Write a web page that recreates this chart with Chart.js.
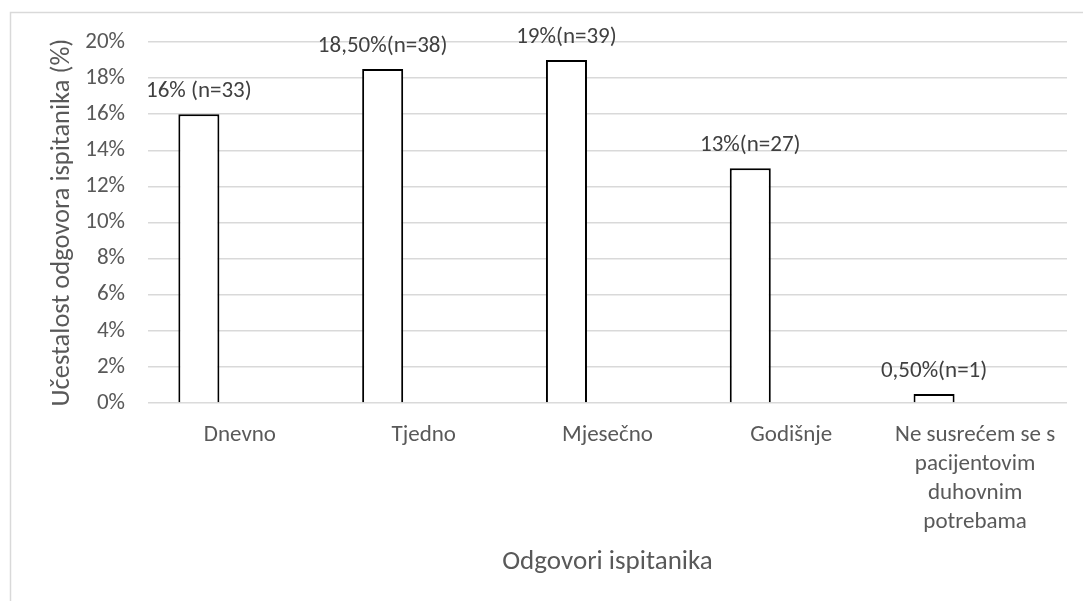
<!DOCTYPE html>
<html lang="hr">
<head>
    <meta charset="UTF-8">
    <title>Učestalost odgovora ispitanika</title>
    <script src="https://cdn.jsdelivr.net/npm/chart.js"></script>
    <style>
        html, body {
            margin: 0;
            padding: 0;
            background: #ffffff;
        }
        .container {
            width: 1083px;
            height: 601px;
            position: relative;
        }
    </style>
</head>
<body>

<div class="container">
    <canvas id="grafikon"></canvas>
</div>

<script>
    // Podaci s grafikona
    const kategorije = [
        'Dnevno',
        'Tjedno',
        'Mjesečno',
        'Godišnje',
        ['Ne susrećem se s', 'pacijentovim', 'duhovnim', 'potrebama']
    ];
    const postoci = [16, 18.5, 19, 13, 0.5];
    const prazanNiz = [null, null, null, null, null]; // druga (prazna) serija iz Excela
    const oznake = ['16% (n=33)', '18,50%(n=38)', '19%(n=39)', '13%(n=27)', '0,50%(n=1)'];

    const FONT = 'Calibri, Carlito, "Open Sans", sans-serif';

    // Okvir (gornji i lijevi rub) kao u izvorniku
    const okvirPlugin = {
        id: 'okvir',
        beforeDraw(chart) {
            const ctx = chart.ctx;
            ctx.save();
            ctx.fillStyle = '#ffffff';
            ctx.fillRect(0, 0, chart.width, chart.height);
            ctx.strokeStyle = '#d9d9d9';
            ctx.lineWidth = 1.5;
            ctx.beginPath();
            ctx.moveTo(10.5, chart.height);
            ctx.lineTo(10.5, 12.5);
            ctx.lineTo(chart.width, 12.5);
            ctx.stroke();
            ctx.restore();
        }
    };

    // Oznake iznad stupaca
    const oznakePlugin = {
        id: 'oznake',
        afterDatasetsDraw(chart) {
            const ctx = chart.ctx;
            const meta = chart.getDatasetMeta(0);
            ctx.save();
            ctx.font = '23px ' + FONT;
            ctx.fillStyle = '#404040';
            ctx.textAlign = 'center';
            ctx.textBaseline = 'middle';
            meta.data.forEach((bar, i) => {
                ctx.fillText(oznake[i], bar.x, bar.y - 23);
            });
            ctx.restore();
        }
    };

    const ctx = document.getElementById('grafikon').getContext('2d');

    new Chart(ctx, {
        type: 'bar',
        data: {
            labels: kategorije,
            datasets: [
                {
                    label: 'Učestalost',
                    data: postoci,
                    backgroundColor: '#ffffff',
                    borderColor: '#000000',
                    borderWidth: 2,
                    categoryPercentage: 0.893,
                    barPercentage: 0.5
                },
                {
                    label: '',
                    data: prazanNiz,
                    categoryPercentage: 0.893,
                    barPercentage: 0.5
                }
            ]
        },
        options: {
            responsive: true,
            maintainAspectRatio: false,
            animation: false,
            layout: {
                padding: { left: 0, top: 42, right: 16, bottom: 0 }
            },
            plugins: {
                legend: { display: false },
                tooltip: { enabled: false }
            },
            scales: {
                x: {
                    grid: { display: false },
                    border: { display: false },
                    ticks: {
                        color: '#595959',
                        font: { family: FONT, size: 23, lineHeight: 1.26 },
                        padding: 10,
                        maxRotation: 0,
                        autoSkip: false
                    },
                    title: {
                        display: true,
                        text: 'Odgovori ispitanika',
                        color: '#595959',
                        font: { family: FONT, size: 27, lineHeight: 1.2 },
                        padding: { top: 0, bottom: 23 }
                    },
                    afterFit(scale) {
                        scale.height = 198;
                    }
                },
                y: {
                    min: 0,
                    max: 20,
                    border: { display: false },
                    grid: {
                        color: '#d9d9d9',
                        lineWidth: 1.5,
                        drawTicks: false
                    },
                    ticks: {
                        stepSize: 2,
                        color: '#595959',
                        font: { family: FONT, size: 23 },
                        padding: 23,
                        callback: v => v + '%'
                    },
                    title: {
                        display: true,
                        text: 'Učestalost odgovora ispitanika (%)',
                        color: '#595959',
                        font: { family: FONT, size: 26.5, lineHeight: 1.2 },
                        padding: { top: 46, bottom: 0 }
                    },
                    afterFit(scale) {
                        scale.width = 148;
                    }
                }
            }
        },
        plugins: [okvirPlugin, oznakePlugin]
    });
</script>

</body>
</html>
